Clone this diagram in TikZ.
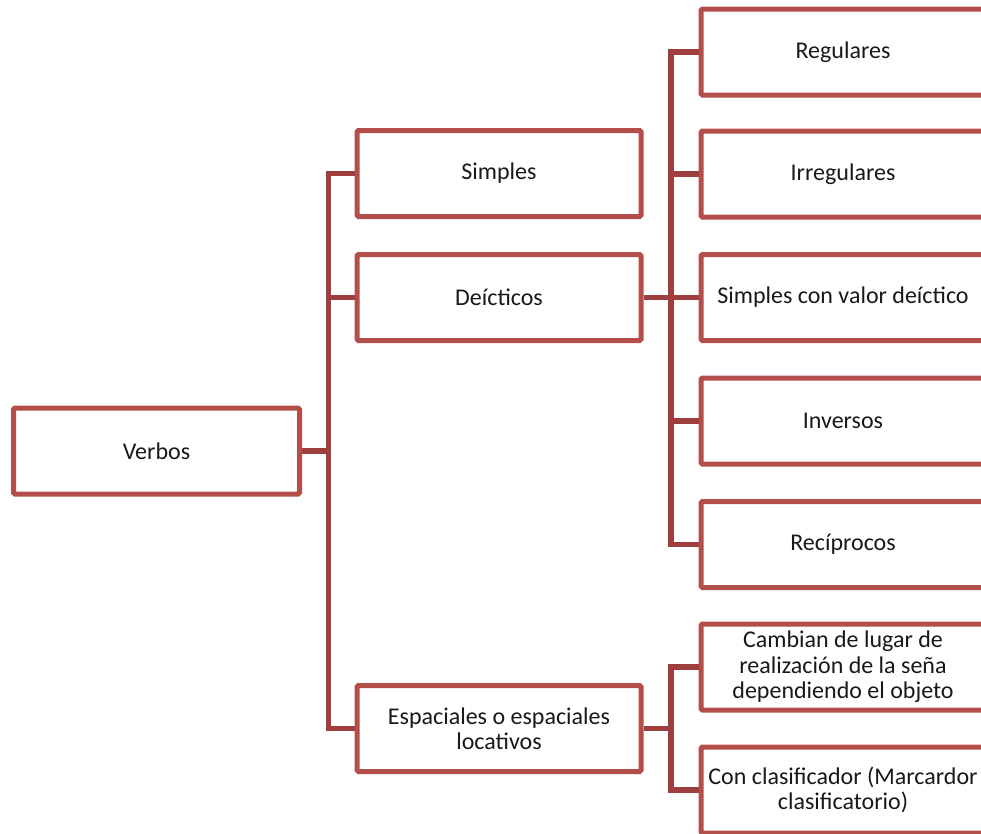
\documentclass[tikz,border=0pt]{standalone}
\usepackage{fontspec}
\setmainfont{Carlito}
\usetikzlibrary{calc}
\definecolor{boxred}{RGB}{180,78,75}
\definecolor{linkred}{RGB}{158,62,62}
\begin{document}
\begin{tikzpicture}[x=1pt,y=-1pt,
  item/.style={draw=boxred, line width=5pt, rounded corners=1.5pt, fill=white,
    minimum width=284pt, minimum height=86pt, inner sep=2pt, align=center,
    font=\fontsize{24}{25.5}\selectfont, text=black!90},
  link/.style={draw=linkred, line width=5.5pt},
  elbow/.style={to path={(\tikztostart) -| ($(\tikztostart)!0.5!(\tikztotarget)$) |- (\tikztotarget)}}]
\useasboundingbox (0,0) rectangle (981,833);

% root and first level
\node[item, minimum width=286pt] (verbos) at (156.5,451) {Verbos};
\node[item] (simples) at (499,173.5) {Simples};
\node[item] (deicticos) at (499,297.5) {Deícticos};
\node[item] (espaciales) at (499,728.5) {Espaciales o espaciales\\locativos};

% second level
\node[item] (regulares) at (843,52) {Regulares};
\node[item] (irregulares) at (843,174) {Irregulares};
\node[item] (simval) at (843,297.5) {Simples con valor deíctico};
\node[item] (inversos) at (843,421) {Inversos};
\node[item] (reciprocos) at (843,544.5) {Recíprocos};
\node[item] (cambian) at (843,667) {Cambian de lugar de\\realización de la seña\\dependiendo el objeto};
\node[item] (clasif) at (843,790) {Con clasificador (Marcardor\\clasificatorio)};

% elbow connectors from each parent to its children
\foreach \c in {simples,deicticos,espaciales}
  \draw[link] (verbos.east) to[elbow] (\c.west);
\foreach \c in {regulares,irregulares,simval,inversos,reciprocos}
  \draw[link] (deicticos.east) to[elbow] (\c.west);
\foreach \c in {cambian,clasif}
  \draw[link] (espaciales.east) to[elbow] (\c.west);
\end{tikzpicture}
\end{document}
